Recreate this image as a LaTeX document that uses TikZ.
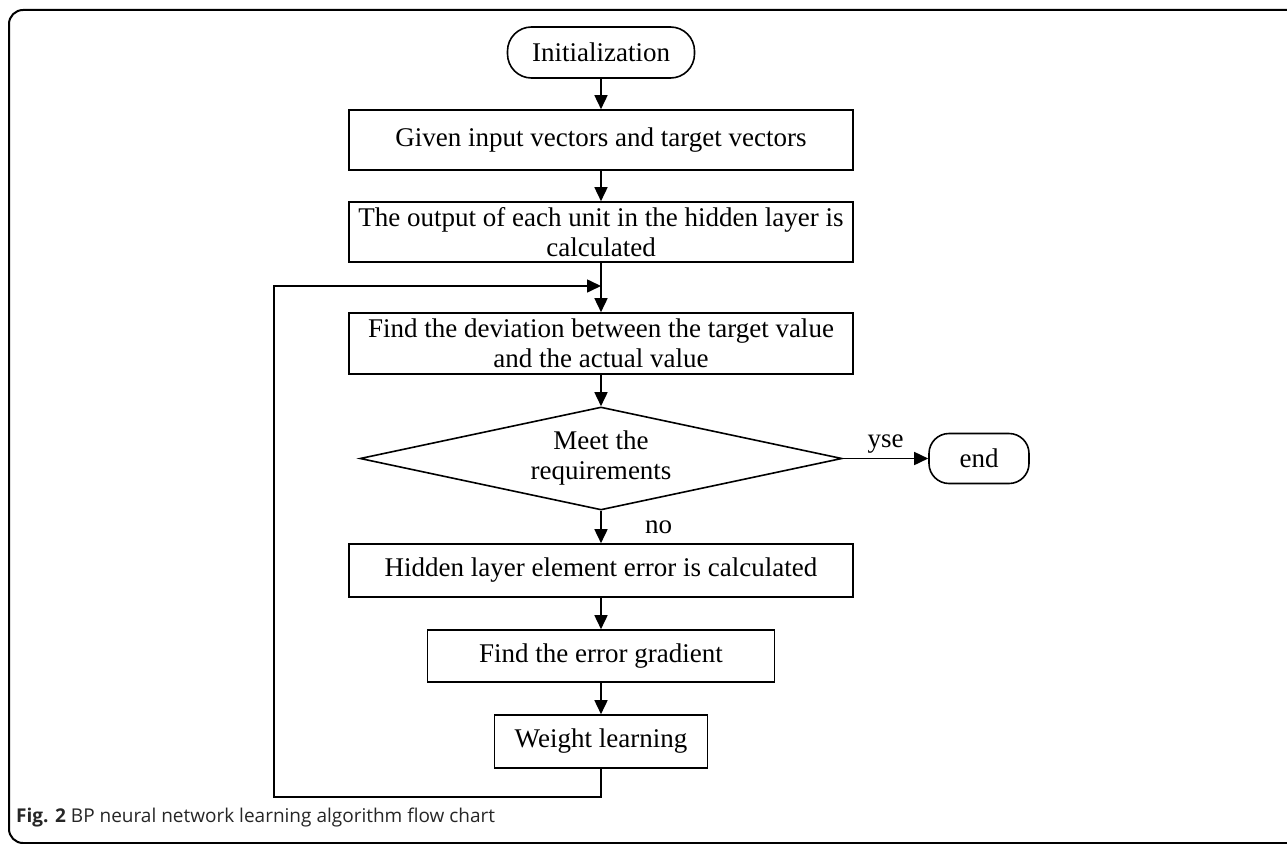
\documentclass[tikz,border=0pt]{standalone}
\usepackage{fontspec}
\setmainfont{Liberation Serif}
\newfontfamily\capfont{Open Sans}
\usetikzlibrary{shapes.geometric,arrows.meta}

\begin{document}
\begin{tikzpicture}[x=1pt,y=-1pt,
  every node/.style={font=\fontsize{27}{30}\selectfont},
  procbox/.style={draw,line width=1.6pt,minimum width=504pt,inner sep=0pt,align=center},
  termbox/.style={draw,line width=1.6pt,rounded corners=24pt,inner sep=0pt},
  decbox/.style={draw,diamond,line width=1.6pt,aspect=4.68,minimum width=482pt,minimum height=103pt,inner sep=0pt,align=center},
  arr/.style={line width=1.6pt,-{Triangle[length=14pt,width=13pt]}}]
% Fix page size
\useasboundingbox (0,0) rectangle (1287,843);

% Draw outer frame
\draw[line width=2pt,rounded corners=14pt] (1300,10) -- (9,10) -- (9,843) -- (1300,843);

% Draw steps
\node[termbox,minimum width=187pt,minimum height=51pt] (init) at (601,52.5) {Initialization};
\node[procbox,minimum height=60pt] (given) at (601,140) {Given input vectors and target vectors};
\node[procbox,minimum height=60pt] (output) at (601,232) {The output of each unit in the hidden layer is\\calculated};
\node[procbox,minimum height=61pt] (deviation) at (601,343.5) {Find the deviation between the target value\\and the actual value};
\node[decbox] (meet) at (601,458.5) {Meet the\\requirements};
\node[termbox,minimum width=100pt,minimum height=50pt,rounded corners=20pt] (end) at (979,458.5) {end};
\node[procbox,minimum height=53pt] (hidden) at (601,570.5) {Hidden layer element error is calculated};
\node[procbox,minimum width=347pt,minimum height=52pt] (gradient) at (601,656) {Find the error gradient};
\node[procbox,minimum width=213pt,minimum height=53pt] (weight) at (601,741.5) {Weight learning};

% Draw arrows
\coordinate (join) at (601,286);
\draw[arr] (init) -- (given);
\draw[arr] (given) -- (output);
\draw[arr] (output) -- (deviation);
\draw[arr] (deviation) -- (meet);
\draw[arr] (meet) -- node[above,inner sep=4pt] {yse} (end);
\draw[arr] (meet) -- node[right,xshift=40pt] {no} (hidden);
\draw[arr] (hidden) -- (gradient);
\draw[arr] (gradient) -- (weight);
\draw[arr] (weight.south) |- (274,797) |- (join);

% Add caption
\node[anchor=west,inner sep=0pt,font=\capfont\fontsize{19}{21}\selectfont,text=black!85] (caption) at (16,818)
  {\textbf{Fig. 2} BP neural network learning algorithm flow chart};
\end{tikzpicture}
\end{document}
